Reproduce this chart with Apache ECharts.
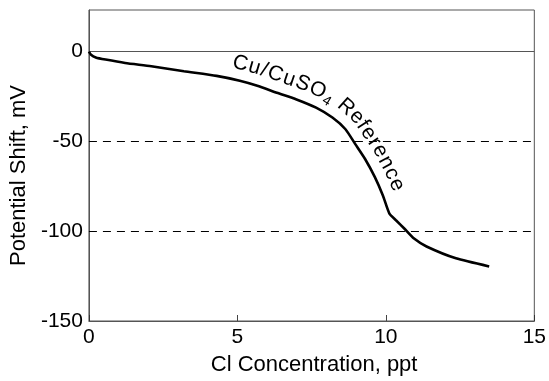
<!DOCTYPE html>
<html>
<head>
<meta charset="utf-8">
<script src="https://cdn.jsdelivr.net/npm/echarts@6/dist/echarts.min.js"></script>
<style>
html,body{margin:0;padding:0;background:#fff;}
#c{width:549px;height:381px;}
</style>
</head>
<body>
<div id="c"></div>
<script>
// Data
const clConc = [0, 0.07, 0.23, 0.56, 1.22, 2.10, 3.20, 4.30, 5.08, 5.67, 6.33, 6.99, 7.65, 8.20, 8.64, 8.97, 9.30, 9.63, 9.90, 10.12, 10.34, 10.62, 10.95, 11.37, 12.36, 13.48];
const potShift = [0, -1.7, -3.2, -4.4, -6.3, -8.1, -10.9, -13.5, -16.2, -19.0, -22.9, -26.6, -31.2, -36.7, -43.2, -51.5, -59.8, -69.9, -80.1, -90.2, -93.9, -98.5, -104.1, -108.5, -115.1, -119.6];
const refLines = [0, -50, -100];
const xInnerTicks = [5, 10];
const curveLabelParts = [
  {text: 'Cu/CuSO', sub: false},
  {text: '4', sub: true},
  {text: ' Reference', sub: false}
];
const labelStartX = 4.85;
const Y_MIN = -150, Y_MAX = 23.2;

const FONT = '"Liberation Sans", Arial, Helvetica, sans-serif';
const chart = echarts.init(document.getElementById('c'), null, {renderer: 'canvas'});

const tickLenUnits = 6 / (313 / (Y_MAX - Y_MIN));

const option = {
  animation: false,
  backgroundColor: '#fff',
  grid: {left: 88, right: 6, top: 10, bottom: 58, show: true, borderColor: '#555', borderWidth: 1, backgroundColor: 'transparent'},
  xAxis: {
    type: 'value', min: 0, max: 15, interval: 5,
    name: 'Cl Concentration, ppt', nameLocation: 'middle', nameGap: 33,
    nameTextStyle: {fontFamily: FONT, fontSize: 22, color: '#000', padding: [0, 0, 0, 5]},
    axisLine: {show: true, onZero: false, lineStyle: {color: '#555', width: 1}},
    axisTick: {show: true, inside: true, length: 6, lineStyle: {color: '#333', width: 1}},
    axisLabel: {fontFamily: FONT, fontSize: 21, color: '#000', margin: 6},
    splitLine: {show: false}
  },
  yAxis: {
    type: 'value', min: Y_MIN, max: Y_MAX, interval: 50,
    name: 'Potential Shift, mV', nameLocation: 'middle', nameGap: 56, nameRotate: 90,
    nameTextStyle: {fontFamily: FONT, fontSize: 22, color: '#000', padding: [0, 20, 0, 0]},
    axisLine: {show: true, onZero: false, lineStyle: {color: '#555', width: 1}},
    axisTick: {show: false},
    axisLabel: {fontFamily: FONT, fontSize: 21, color: '#000', margin: 6,
      formatter: v => (Math.abs(v % 50) < 1e-9 ? String(v) : '')},
    splitLine: {show: false}
  },
  series: [{
    type: 'line',
    data: clConc.map((x, i) => [x, potShift[i]]),
    showSymbol: false,
    smooth: 0.2,
    lineStyle: {color: '#000', width: 2.6},
    z: 5,
    markLine: {
      silent: true, symbol: 'none', label: {show: false},
      data: refLines.map(v => ({
        yAxis: v,
        lineStyle: v === 0 ? {type: 'solid', color: '#555', width: 1} : {type: [8, 6], color: '#000', width: 1}
      })).concat(xInnerTicks.map(t => [
        {coord: [t, Y_MIN], lineStyle: {type: 'solid', color: '#444', width: 1}},
        {coord: [t, Y_MIN + tickLenUnits]}
      ]))
    }
  }]
};
chart.setOption(option);

// Place the curve label along an offset of the curve
(function () {
  const ctx = document.createElement('canvas').getContext('2d');
  const mainSize = 21, subSize = 14, spacing = 1.3;
  const pts = clConc.map((x, i) => chart.convertToPixel({gridIndex: 0}, [x, potShift[i]]));
  const off = 17;
  const segN = [];
  for (let i = 0; i < pts.length - 1; i++) {
    const dx = pts[i + 1][0] - pts[i][0], dy = pts[i + 1][1] - pts[i][1];
    const L = Math.hypot(dx, dy);
    segN.push([dy / L, -dx / L]);
  }
  const opts = pts.map((p, i) => {
    let n;
    if (i === 0) n = segN[0];
    else if (i === pts.length - 1) n = segN[segN.length - 1];
    else { n = [segN[i - 1][0] + segN[i][0], segN[i - 1][1] + segN[i][1]]; const L = Math.hypot(n[0], n[1]); n = [n[0] / L, n[1] / L]; }
    return [p[0] + n[0] * off, p[1] + n[1] * off];
  });
  const cum = [0];
  for (let i = 1; i < opts.length; i++) cum.push(cum[i - 1] + Math.hypot(opts[i][0] - opts[i - 1][0], opts[i][1] - opts[i - 1][1]));
  function at(s) {
    let i = 0;
    while (i < cum.length - 2 && cum[i + 1] < s) i++;
    const t = (s - cum[i]) / (cum[i + 1] - cum[i]);
    const a = opts[i], b = opts[i + 1];
    return {x: a[0] + (b[0] - a[0]) * t, y: a[1] + (b[1] - a[1]) * t, ang: Math.atan2(b[1] - a[1], b[0] - a[0])};
  }
  const startPx = chart.convertToPixel({gridIndex: 0}, [labelStartX, 0])[0];
  let s = 0;
  for (let i = 0; i < opts.length - 1; i++) {
    if (opts[i + 1][0] >= startPx) {
      const t = (startPx - opts[i][0]) / (opts[i + 1][0] - opts[i][0]);
      s = cum[i] + t * (cum[i + 1] - cum[i]);
      break;
    }
  }
  const els = [];
  curveLabelParts.forEach(part => {
    const size = part.sub ? subSize : mainSize;
    const font = size + 'px ' + FONT;
    ctx.font = font;
    for (const ch of part.text) {
      const w = ctx.measureText(ch).width;
      const p = at(s + w / 2);
      let x = p.x, y = p.y;
      if (part.sub) {
        const d = 6;
        x += -Math.sin(p.ang) * d; y += Math.cos(p.ang) * d;
      }
      if (ch !== ' ') {
        els.push({type: 'text', x: x, y: y, rotation: -p.ang, silent: true, z: 10,
          style: {text: ch, font: font, fill: '#000', align: 'center', verticalAlign: 'middle'}});
      }
      s += w + (part.sub ? 1 : spacing);
    }
  });
  chart.setOption({graphic: els});
})();
</script>
</body>
</html>
